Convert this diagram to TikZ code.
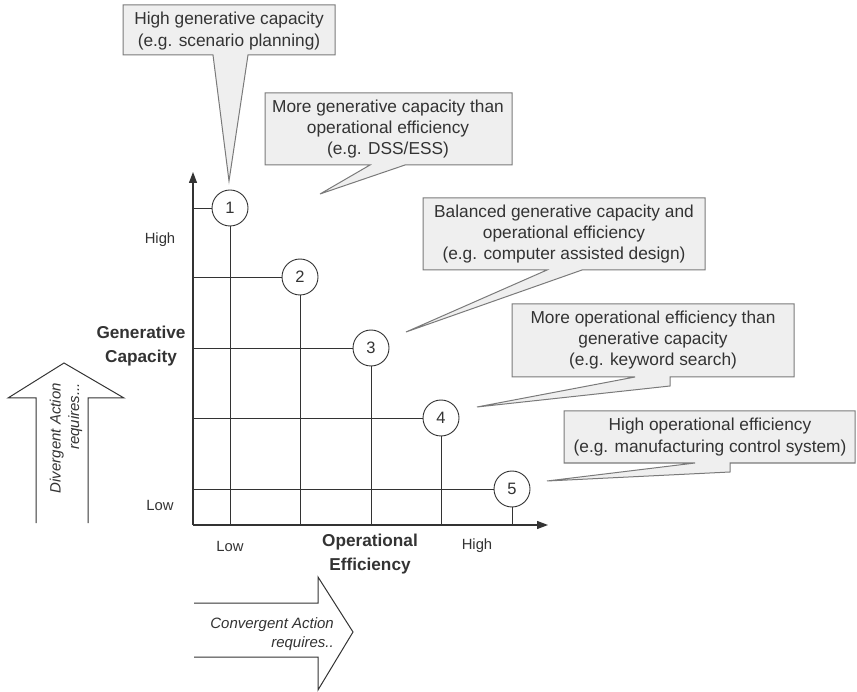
\documentclass[tikz,border=0pt]{standalone}
\usepackage{fontspec}
\setmainfont{Liberation Sans}
\usetikzlibrary{arrows.meta}
\definecolor{calloutfill}{HTML}{EFEFEF}
\definecolor{calloutline}{HTML}{7A7A7A}
\definecolor{ink}{HTML}{333333}
\begin{document}
\begin{tikzpicture}[x=1pt,y=-1pt,
  callout/.style={fill=calloutfill,draw=calloutline,line width=1pt,line join=miter},
  callouttext/.style={align=center,font=\fontsize{17.3}{21.3}\selectfont,text=ink,inner sep=0pt},
  level/.style={circle,draw=ink,line width=0.9pt,fill=white,minimum size=36pt,inner sep=0pt,font=\fontsize{16.5}{18}\selectfont,text=ink},
  gridline/.style={draw=ink,line width=0.9pt},
  axis/.style={draw=ink,line width=1.2pt,-{Triangle[length=11pt,width=8pt]}},
  ticklabel/.style={font=\fontsize{14.8}{17}\selectfont,text=ink,inner sep=0pt},
  axislabel/.style={font=\bfseries\fontsize{17.2}{23.5}\selectfont,align=center,text=ink,inner sep=0pt},
  bigarrow/.style={draw=ink,line width=1pt,fill=white,line join=miter},
  arrowtext/.style={font=\itshape\fontsize{15}{18.5}\selectfont,align=right,text=ink,inner sep=0pt}]
\useasboundingbox (0,0) rectangle (857,692);

% axes
\coordinate (origin) at (193,525);
\coordinate (ytip) at (193,172);
\coordinate (xtip) at (548,525);
\draw[axis] (origin) -- (ytip);
\draw[axis] (origin) -- (xtip);

% level circles
\node[level] (c1) at (230,208) {1};
\node[level] (c2) at (300,277) {2};
\node[level] (c3) at (371,348) {3};
\node[level] (c4) at (441,418) {4};
\node[level] (c5) at (512,489) {5};

% grid lines: axis -> circle, circle -> axis
\foreach \i in {1,...,5}{
  \coordinate (h\i) at (origin |- c\i);
  \coordinate (v\i) at (origin -| c\i);
  \draw[gridline] (h\i) -- (c\i.west);
  \draw[gridline] (c\i.south) -- (v\i);
}

% tick labels
\node[ticklabel] (yhigh) at (160,240) {High};
\node[ticklabel] (ylow) at (160,505) {Low};
\node[ticklabel] (xlow) at (230,546) {Low};
\node[ticklabel] (xhigh) at (477,546) {High};

% axis titles
\node[axislabel] (ylabel) at (141,346) {Generative\\Capacity};
\node[axislabel] (xlabel) at (370,554) {Operational\\Efficiency};

% divergent action arrow
\draw[bigarrow] (36,523) -- (36,398) -- (8,398) -- (64,363) -- (124,398) -- (88,398) -- (88,523);
\node[arrowtext,rotate=90,anchor=east] (divtext) at (66,383) {Divergent Action\\requires...};

% convergent action arrow
\draw[bigarrow] (194,603) -- (318,603) -- (318,577) -- (353,632) -- (318,690) -- (318,657) -- (194,657);
\node[arrowtext,anchor=east] (context) at (334,634) {Convergent Action\\requires..};

% callout 1
\coordinate (p1) at (229,181);
\draw[callout] (123,5) -- (335,5) -- (335,55) -- (248,55) -- (p1) -- (213,55) -- (123,55) -- cycle;
\node[callouttext] (t1) at (229,31) {High generative capacity\\(e.g. scenario planning)};

% callout 2
\coordinate (p2) at (320,194);
\draw[callout] (265,93) -- (512,93) -- (512,165) -- (405,165) -- (p2) -- (370,165) -- (265,165) -- cycle;
\node[callouttext] (t2) at (388,129) {More generative capacity than\\operational efficiency\\(e.g. DSS/ESS)};

% callout 3
\coordinate (p3) at (406,332);
\draw[callout] (423,198) -- (705,198) -- (705,270) -- (582,270) -- (p3) -- (547,270) -- (423,270) -- cycle;
\node[callouttext] (t3) at (564,234) {Balanced generative capacity and\\operational efficiency\\(e.g. computer assisted design)};

% callout 4
\coordinate (p4) at (477,407);
\draw[callout] (512,304) -- (794,304) -- (794,377) -- (670,377) -- (670,386) -- (p4) -- (635,377) -- (512,377) -- cycle;
\node[callouttext] (t4) at (653,340) {More operational efficiency than\\generative capacity\\(e.g. keyword search)};

% callout 5
\coordinate (p5) at (547,481);
\draw[callout] (564,411) -- (855,411) -- (855,463) -- (730,463) -- (730,472) -- (p5) -- (695,463) -- (564,463) -- cycle;
\node[callouttext] (t5) at (710,437) {High operational efficiency\\(e.g. manufacturing control system)};
\end{tikzpicture}
\end{document}
